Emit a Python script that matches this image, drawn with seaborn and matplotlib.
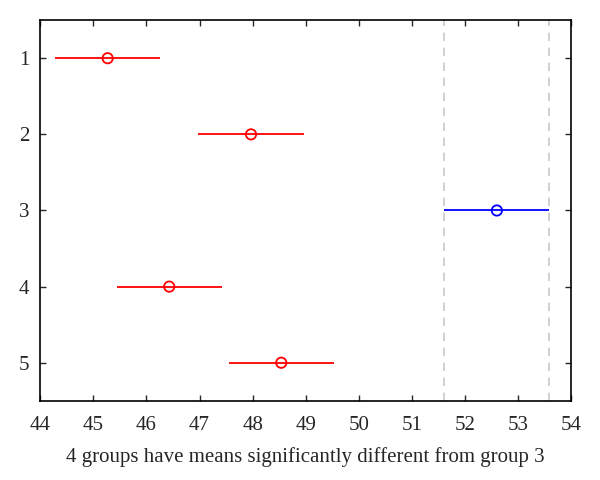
import matplotlib
matplotlib.use("Agg")
import matplotlib.pyplot as plt
import seaborn as sns
import pandas as pd

# group means and comparison intervals
groups = [1, 2, 3, 4, 5]
means = [45.27, 47.97, 52.60, 46.43, 48.54]
lower = [44.28, 46.98, 51.61, 45.44, 47.55]
upper = [46.26, 48.96, 53.59, 47.42, 49.53]
colors = ["red", "red", "blue", "red", "red"]

df = pd.DataFrame({"group": groups, "mean": means, "lo": lower, "hi": upper, "color": colors})

sns.set_style("white")
plt.rcParams["font.family"] = ["Liberation Serif", "DejaVu Serif"]

fig, ax = plt.subplots(figsize=(6, 4.8), dpi=100)
fig.subplots_adjust(left=0.067, right=0.952, top=0.958, bottom=0.165)

# reference lines at the selected group's interval
sel = df[df["group"] == 3].iloc[0]
for xv in (sel["lo"], sel["hi"]):
    ax.axvline(xv, color="#c8c8c8", linestyle=(0, (5, 4)), linewidth=1.2, zorder=1)

ax.hlines(df["group"], df["lo"], df["hi"], colors=df["color"], linewidth=1.3, zorder=2)
sns.scatterplot(data=df, x="mean", y="group", hue="color",
                palette={"red": "red", "blue": "blue"}, marker="o",
                s=55, linewidth=1.3, legend=False, ax=ax, zorder=3)
pts = ax.collections[-1]
pts.set_facecolor("none")
pts.set_edgecolor(list(df["color"]))

ax.set_xlim(44, 54)
ax.set_ylim(5.5, 0.5)
ax.set_xticks(range(44, 55))
ax.set_yticks(groups)
ax.set_xlabel("4 groups have means significantly different from group 3", fontsize=15, labelpad=9)
ax.set_ylabel("")
ax.tick_params(direction="in", length=4, width=1, labelsize=15,
               bottom=True, left=True, top=True, right=True, pad=11)
ax.tick_params(axis="y", pad=8)
for sp in ax.spines.values():
    sp.set_color("black")
    sp.set_linewidth(1.2)

fig.savefig("out.png", dpi=100)
